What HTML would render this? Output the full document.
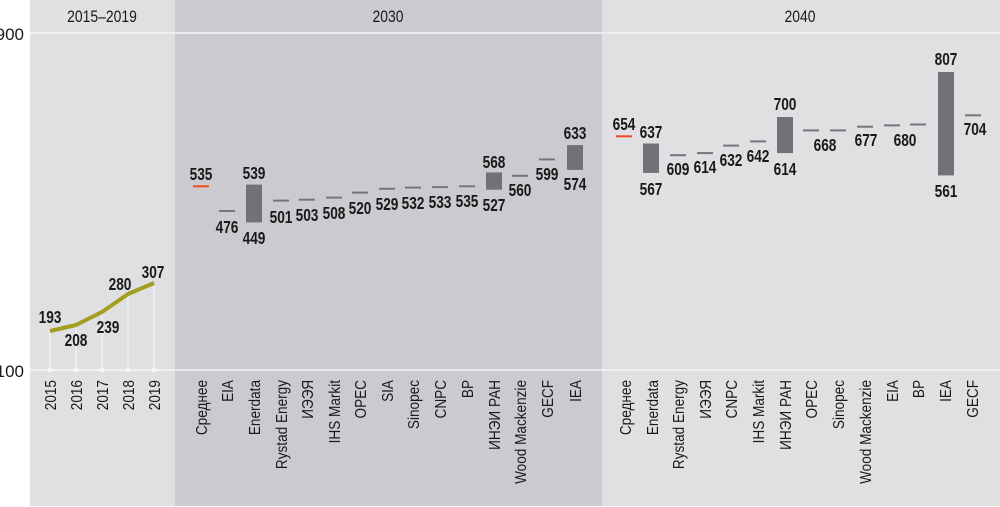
<!DOCTYPE html>
<html><head><meta charset="utf-8"><style>
html,body{margin:0;padding:0;background:#fff;}
svg{display:block;}
.v{font-family:"Liberation Sans Narrow","Liberation Sans",sans-serif;font-weight:bold;font-size:18px;fill:#1a1a1a;text-anchor:middle;transform-box:fill-box;transform-origin:center;transform:scaleX(0.76);}
.c{font-family:"Liberation Sans Narrow","Liberation Sans",sans-serif;font-size:16px;fill:#1a1a1a;text-anchor:end;}
.h{font-family:"Liberation Sans Narrow","Liberation Sans",sans-serif;font-size:17px;fill:#1a1a1a;text-anchor:middle;transform-box:fill-box;transform-origin:center;transform:scaleX(0.82);}
.ax{font-family:"Liberation Sans Narrow","Liberation Sans",sans-serif;font-size:17px;fill:#1a1a1a;text-anchor:end;}
.l{stroke:#75767c;stroke-width:2;}
.b{fill:#707278;}
</style></head><body>
<svg width="1000" height="507" viewBox="0 0 1000 507" xmlns="http://www.w3.org/2000/svg">
<rect x="30" y="0" width="145" height="506" fill="#e0e0e2"/>
<rect x="175" y="0" width="427" height="506" fill="#cbcacf"/>
<rect x="602" y="0" width="398" height="506" fill="#e0e0e2"/>
<line x1="30" y1="33" x2="1000" y2="33" stroke="#f4f4f5" stroke-width="1.5"/>
<line x1="30" y1="370" x2="1000" y2="370" stroke="#f4f4f5" stroke-width="1.5"/>
<text class="ax" x="24" y="40">900</text>
<text class="ax" x="24" y="377">100</text>
<text class="h" x="102" y="22">2015–2019</text>
<text class="h" x="388" y="22">2030</text>
<text class="h" x="800" y="22">2040</text>

<g stroke="#f4f4f5" stroke-width="1.2">
<line x1="50" y1="331" x2="50" y2="370"/><line x1="76" y1="325" x2="76" y2="370"/>
<line x1="102" y1="312" x2="102" y2="370"/><line x1="128" y1="294" x2="128" y2="370"/>
<line x1="154" y1="283" x2="154" y2="370"/></g>
<g fill="#f4f4f5"><circle cx="50" cy="370" r="2.5"/><circle cx="76" cy="370" r="2.5"/><circle cx="102" cy="370" r="2.5"/><circle cx="128" cy="370" r="2.5"/><circle cx="154" cy="370" r="2.5"/></g>
<polyline points="50,331 76,325 102,312 128,294 154,283" fill="none" stroke="#a39e1f" stroke-width="4" stroke-linejoin="round"/>
<text class="v" x="50" y="323">193</text>
<text class="v" x="76" y="346">208</text>
<text class="v" x="108" y="333">239</text>
<text class="v" x="120" y="290">280</text>
<text class="v" x="153" y="278">307</text>

<line x1="193" y1="186.3" x2="209" y2="186.3" stroke="#f04a23" stroke-width="2"/>
<text class="v" x="201" y="180">535</text>
<line class="l" x1="219" y1="211" x2="235" y2="211"/><text class="v" x="227" y="233">476</text>
<rect class="b" x="246" y="184.6" width="16" height="37.8"/><text class="v" x="254" y="179">539</text><text class="v" x="254" y="244">449</text>
<line class="l" x1="273" y1="200.6" x2="289" y2="200.6"/><text class="v" x="281" y="223">501</text>
<line class="l" x1="299" y1="199.7" x2="315" y2="199.7"/><text class="v" x="307" y="221">503</text>
<line class="l" x1="326" y1="197.6" x2="342" y2="197.6"/><text class="v" x="334" y="219">508</text>
<line class="l" x1="352" y1="192.6" x2="368" y2="192.6"/><text class="v" x="360" y="214">520</text>
<line class="l" x1="379" y1="188.8" x2="395" y2="188.8"/><text class="v" x="387" y="210">529</text>
<line class="l" x1="405" y1="187.6" x2="421" y2="187.6"/><text class="v" x="413" y="209">532</text>
<line class="l" x1="432" y1="187.1" x2="448" y2="187.1" stroke-width="3"/><text class="v" x="440" y="208">533</text>
<line class="l" x1="459" y1="186.3" x2="475" y2="186.3"/><text class="v" x="467" y="207">535</text>
<rect class="b" x="486" y="172.4" width="16" height="17.3"/><text class="v" x="494" y="168">568</text><text class="v" x="494" y="211">527</text>
<line class="l" x1="512" y1="175.8" x2="528" y2="175.8"/><text class="v" x="520" y="196">560</text>
<line class="l" x1="539" y1="159.4" x2="555" y2="159.4" stroke-width="3"/><text class="v" x="547" y="180">599</text>
<rect class="b" x="567" y="145.1" width="16" height="24.8"/><text class="v" x="575" y="139">633</text><text class="v" x="575" y="190">574</text>

<line x1="616" y1="136.3" x2="632" y2="136.3" stroke="#f04a23" stroke-width="2"/>
<text class="v" x="624" y="130">654</text>
<rect class="b" x="643" y="143.5" width="16" height="29.4"/><text class="v" x="651" y="138">637</text><text class="v" x="651" y="195">567</text>
<line class="l" x1="670" y1="155.2" x2="686" y2="155.2"/><text class="v" x="678" y="175">609</text>
<line class="l" x1="697" y1="153.1" x2="713" y2="153.1"/><text class="v" x="705" y="173">614</text>
<line class="l" x1="723" y1="145.6" x2="739" y2="145.6"/><text class="v" x="731" y="166">632</text>
<line class="l" x1="750" y1="141.4" x2="766" y2="141.4"/><text class="v" x="758" y="162">642</text>
<rect class="b" x="777" y="117" width="16" height="36.1"/><text class="v" x="785" y="110">700</text><text class="v" x="785" y="175">614</text>
<line class="l" x1="803" y1="130.4" x2="819" y2="130.4" stroke-width="3"/>
<line class="l" x1="830" y1="130.4" x2="846" y2="130.4" stroke-width="3"/><text class="v" x="825" y="151">668</text>
<line class="l" x1="857" y1="126.7" x2="873" y2="126.7"/><text class="v" x="866" y="146">677</text>
<line class="l" x1="884" y1="125.4" x2="900" y2="125.4"/>
<line class="l" x1="910" y1="124.5" x2="926" y2="124.5" stroke-width="3"/><text class="v" x="905" y="146">680</text>
<rect class="b" x="938" y="72" width="16" height="103.4"/><text class="v" x="946" y="65">807</text><text class="v" x="946" y="197">561</text>
<line class="l" x1="965" y1="115.3" x2="981" y2="115.3"/><text class="v" x="975" y="135">704</text>

<g>
<text class="c" transform="translate(56,380) rotate(-90) scale(0.85,1)">2015</text>
<text class="c" transform="translate(82,380) rotate(-90) scale(0.85,1)">2016</text>
<text class="c" transform="translate(108,380) rotate(-90) scale(0.85,1)">2017</text>
<text class="c" transform="translate(134,380) rotate(-90) scale(0.85,1)">2018</text>
<text class="c" transform="translate(160,380) rotate(-90) scale(0.85,1)">2019</text>

<text class="c" transform="translate(207,380) rotate(-90) scale(0.85,1)">Среднее</text>
<text class="c" transform="translate(233,380) rotate(-90) scale(0.85,1)">EIA</text>
<text class="c" transform="translate(260,380) rotate(-90) scale(0.85,1)">Enerdata</text>
<text class="c" transform="translate(287,380) rotate(-90) scale(0.85,1)">Rystad Energy</text>
<text class="c" transform="translate(313,380) rotate(-90) scale(0.85,1)">ИЭЭЯ</text>
<text class="c" transform="translate(340,380) rotate(-90) scale(0.85,1)">IHS Markit</text>
<text class="c" transform="translate(366,380) rotate(-90) scale(0.85,1)">OPEC</text>
<text class="c" transform="translate(393,380) rotate(-90) scale(0.85,1)">SIA</text>
<text class="c" transform="translate(419,380) rotate(-90) scale(0.85,1)">Sinopec</text>
<text class="c" transform="translate(446,380) rotate(-90) scale(0.85,1)">CNPC</text>
<text class="c" transform="translate(473,380) rotate(-90) scale(0.85,1)">BP</text>
<text class="c" transform="translate(500,380) rotate(-90) scale(0.85,1)">ИНЭИ РАН</text>
<text class="c" transform="translate(526,380) rotate(-90) scale(0.85,1)">Wood Mackenzie</text>
<text class="c" transform="translate(553,380) rotate(-90) scale(0.85,1)">GECF</text>
<text class="c" transform="translate(581,380) rotate(-90) scale(0.85,1)">IEA</text>

<text class="c" transform="translate(631,380) rotate(-90) scale(0.85,1)">Среднее</text>
<text class="c" transform="translate(658,380) rotate(-90) scale(0.85,1)">Enerdata</text>
<text class="c" transform="translate(684,380) rotate(-90) scale(0.85,1)">Rystad Energy</text>
<text class="c" transform="translate(711,380) rotate(-90) scale(0.85,1)">ИЭЭЯ</text>
<text class="c" transform="translate(737,380) rotate(-90) scale(0.85,1)">CNPC</text>
<text class="c" transform="translate(764,380) rotate(-90) scale(0.85,1)">IHS Markit</text>
<text class="c" transform="translate(791,380) rotate(-90) scale(0.85,1)">ИНЭИ РАН</text>
<text class="c" transform="translate(817,380) rotate(-90) scale(0.85,1)">OPEC</text>
<text class="c" transform="translate(844,380) rotate(-90) scale(0.85,1)">Sinopec</text>
<text class="c" transform="translate(871,380) rotate(-90) scale(0.85,1)">Wood Mackenzie</text>
<text class="c" transform="translate(898,380) rotate(-90) scale(0.85,1)">EIA</text>
<text class="c" transform="translate(924,380) rotate(-90) scale(0.85,1)">BP</text>
<text class="c" transform="translate(951,380) rotate(-90) scale(0.85,1)">IEA</text>
<text class="c" transform="translate(978,380) rotate(-90) scale(0.85,1)">GECF</text>
</g>
</svg>
</body></html>
